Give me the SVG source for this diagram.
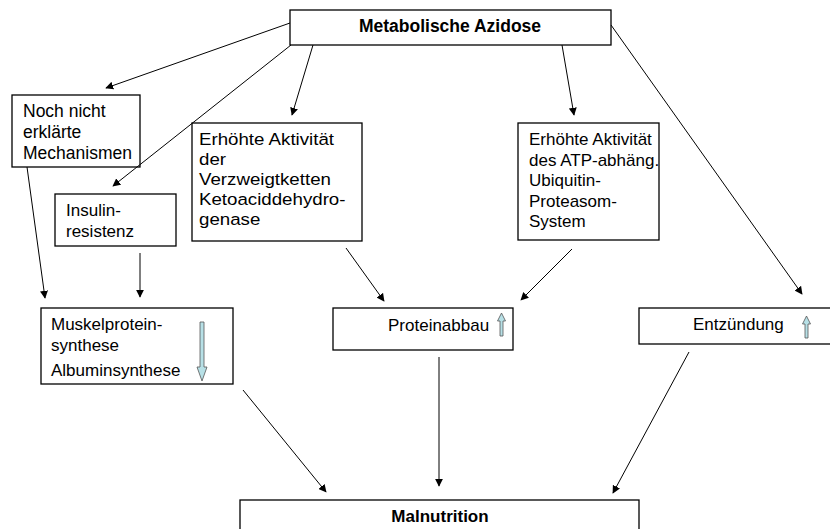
<svg xmlns="http://www.w3.org/2000/svg" width="830" height="529" viewBox="0 0 830 529">
<style>
.box{fill:#fff;stroke:#000;stroke-width:1.3}
.t{font-family:"Liberation Sans",Arial,sans-serif;font-size:17px;fill:#000}
.b{font-weight:bold;text-anchor:middle}
.c line{stroke:#000;stroke-width:1;marker-end:url(#ah)}
.ha{fill:#b7e0e6;stroke:#555;stroke-width:0.8}
</style>
<defs>
<marker id="ah" viewBox="0 0 10 10" refX="9" refY="5" markerWidth="8" markerHeight="8" markerUnits="userSpaceOnUse" orient="auto">
<path d="M0,0 L10,5 L0,10 z" fill="#000"/>
</marker>
</defs>
<rect width="830" height="529" fill="#fff"/>
<g id="azidose"><rect class="box" x="290" y="10" width="321" height="35"/><text class="t b" x="450" y="32" style="font-size:17.5px">Metabolische Azidose</text></g>
<g id="noch"><rect class="box" x="12" y="95" width="128" height="72"/><text class="t" x="23" y="117" style="font-size:17.5px">Noch nicht</text><text class="t" x="23" y="138" style="font-size:17.5px">erklärte</text><text class="t" x="23" y="159" style="font-size:17.5px">Mechanismen</text></g>
<g id="insulin"><rect class="box" x="55" y="194" width="121" height="52"/><text class="t" x="66" y="216">Insulin-</text><text class="t" x="66" y="237">resistenz</text></g>
<g id="verzweig"><rect class="box" x="192" y="123" width="170" height="118"/><g transform="translate(199,0) scale(1.1,1)"><text class="t" x="0" y="145">Erhöhte Aktivität</text><text class="t" x="0" y="165">der</text><text class="t" x="0" y="185">Verzweigtketten</text><text class="t" x="0" y="205">Ketoaciddehydro-</text><text class="t" x="0" y="225">genase</text></g></g>
<g id="ubiquitin"><rect class="box" x="518" y="123" width="141" height="117"/><text class="t" x="529" y="145">Erhöhte Aktivität</text><text class="t" x="529" y="166">des ATP-abhäng.</text><text class="t" x="529" y="186">Ubiquitin-</text><text class="t" x="529" y="207">Proteasom-</text><text class="t" x="529" y="227">System</text></g>
<g id="muskel"><rect class="box" x="41" y="308" width="192" height="76"/><text class="t" x="51" y="330">Muskelprotein-</text><text class="t" x="51" y="351">synthese</text><text class="t" x="51" y="376">Albuminsynthese</text><path class="ha" d="M200,322 h4 v45 h3 l-5,14 l-5,-14 h3 z"/></g>
<g id="proteinabbau"><rect class="box" x="333" y="308" width="180" height="42"/><text class="t" x="388" y="331">Proteinabbau</text><path class="ha" d="M500,336 v-15 h-2.5 l4,-8 l4,8 h-2.5 v15 z"/></g>
<g id="entzuendung"><rect class="box" x="639" y="308" width="200" height="36"/><text class="t" x="693" y="330">Entzündung</text><path class="ha" d="M805,338 v-14 h-2.5 l4,-8 l4,8 h-2.5 v14 z"/></g>
<g id="malnutrition"><rect class="box" x="240" y="500" width="399" height="40"/><text class="t b" x="440" y="522">Malnutrition</text></g>
<g id="connectors" class="c">
<line x1="290" y1="23" x2="106" y2="88"/>
<line x1="291" y1="45" x2="113" y2="186"/>
<line x1="313" y1="45" x2="292" y2="115"/>
<line x1="562" y1="45" x2="574" y2="115"/>
<line x1="611" y1="25" x2="802" y2="294"/>
<line x1="27" y1="167" x2="45" y2="298"/>
<line x1="140" y1="253" x2="140" y2="297"/>
<line x1="346" y1="248" x2="384" y2="301"/>
<line x1="572" y1="249" x2="521" y2="300"/>
<line x1="243" y1="390" x2="326" y2="492"/>
<line x1="439" y1="357" x2="439" y2="486"/>
<line x1="689" y1="352" x2="613" y2="493"/>
</g>
</svg>
